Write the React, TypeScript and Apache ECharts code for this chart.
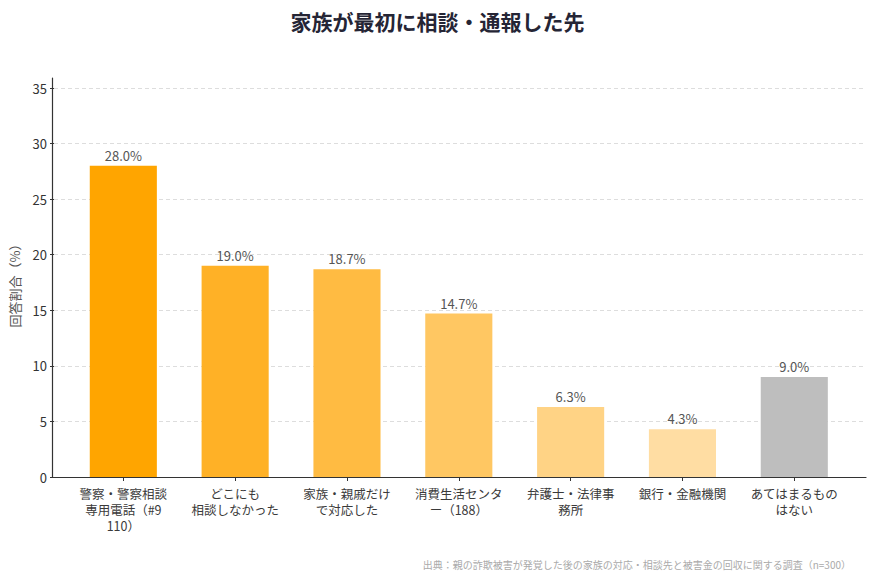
import React, { useEffect, useRef } from "react";
import * as echarts from "echarts";

// Survey answers: where the family first turned for help
const categories = [
  "警察・警察相談\n専用電話（#9\n110）",
  "どこにも\n相談しなかった",
  "家族・親戚だけ\nで対応した",
  "消費生活センタ\nー（188）",
  "弁護士・法律事\n務所",
  "銀行・金融機関",
  "あてはまるもの\nはない",
];
const shares = [28.0, 19.0, 18.7, 14.7, 6.3, 4.3, 9.0];
const barColors = ["#FFA500", "#FFB126", "#FFBB42", "#FFC762", "#FFD385", "#FFDDA3", "#BEBEBE"];
const yTicks = [0, 5, 10, 15, 20, 25, 30, 35];

const FONT = "'Noto Sans CJK JP', 'Noto Sans', sans-serif";

export default function App() {
  const ref = useRef<HTMLDivElement>(null);

  useEffect(() => {
    if (!ref.current) return;
    const chart = echarts.init(ref.current, undefined, { renderer: "svg" });
    const yMax = yTicks[yTicks.length - 1];

    chart.setOption({
      animation: false,
      backgroundColor: "#ffffff",
      textStyle: { fontFamily: FONT },
      title: {
        text: "家族が最初に相談・通報した先",
        left: "center",
        top: 5,
        textStyle: { fontFamily: FONT, fontSize: 21, fontWeight: 600, color: "#252535" },
      },
      grid: [
        // frame grid: gridlines, y ticks and the x baseline
        { left: 52.5, right: 9, top: 88, bottom: 106, containLabel: false },
        // bar grid: category bands
        { left: 67.4, right: 24.8, top: 78, bottom: 106, containLabel: false },
      ],
      xAxis: [
        {
          type: "value",
          gridIndex: 0,
          min: 0,
          max: 1,
          axisLine: { show: true, lineStyle: { color: "#333333", width: 1.2 } },
          axisTick: { show: false },
          axisLabel: { show: false },
          splitLine: { show: false },
        },
        {
          type: "category",
          gridIndex: 1,
          data: categories,
          axisLine: { show: false },
          axisTick: { show: true, alignWithLabel: true, length: 4, lineStyle: { color: "#333333" } },
          axisLabel: {
            interval: 0,
            fontFamily: FONT,
            fontSize: 12.5,
            lineHeight: 16,
            color: "#3a3a3a",
            margin: 8,
            align: "center",
          },
        },
      ],
      yAxis: [
        {
          type: "value",
          gridIndex: 0,
          min: 0,
          max: yMax,
          interval: 5,
          name: "回答割合（%）",
          nameLocation: "middle",
          nameGap: 33,
          nameRotate: 90,
          nameTextStyle: { fontFamily: FONT, fontSize: 13, color: "#555555" },
          axisLine: { show: false },
          axisTick: { show: true, length: 4, lineStyle: { color: "#333333" } },
          axisLabel: { fontFamily: FONT, fontSize: 13, color: "#333333", margin: 7 },
          splitLine: { show: true, lineStyle: { color: "#dddddd", type: [4, 3], width: 1 } },
        },
        {
          type: "value",
          gridIndex: 1,
          min: 0,
          max: (yMax * 399) / 389,
          offset: 14.9,
          axisLine: { show: true, lineStyle: { color: "#333333", width: 1.2 } },
          axisTick: { show: false },
          axisLabel: { show: false },
          splitLine: { show: false },
        },
      ],
      series: [
        {
          type: "bar",
          xAxisIndex: 1,
          yAxisIndex: 1,
          barWidth: "60%",
          data: shares.map((v, i) => ({ value: v, itemStyle: { color: barColors[i] } })),
          label: {
            show: true,
            position: "top",
            distance: 4,
            fontFamily: FONT,
            fontSize: 13,
            color: "#555555",
            formatter: (p: any) => `${Number(p.value).toFixed(1)}%`,
          },
        },
      ],
      graphic: [
        {
          type: "text",
          right: 24,
          bottom: 14,
          style: {
            text: "出典：親の詐欺被害が発覚した後の家族の対応・相談先と被害金の回収に関する調査（n=300）",
            fontFamily: FONT,
            fontSize: 10,
            fill: "#aaaaaa",
          },
        },
      ],
    });

    return () => chart.dispose();
  }, []);

  return (
    <div
      ref={ref}
      style={{ position: "absolute", left: 0, top: 0, width: 875, height: 583 }}
    />
  );
}
